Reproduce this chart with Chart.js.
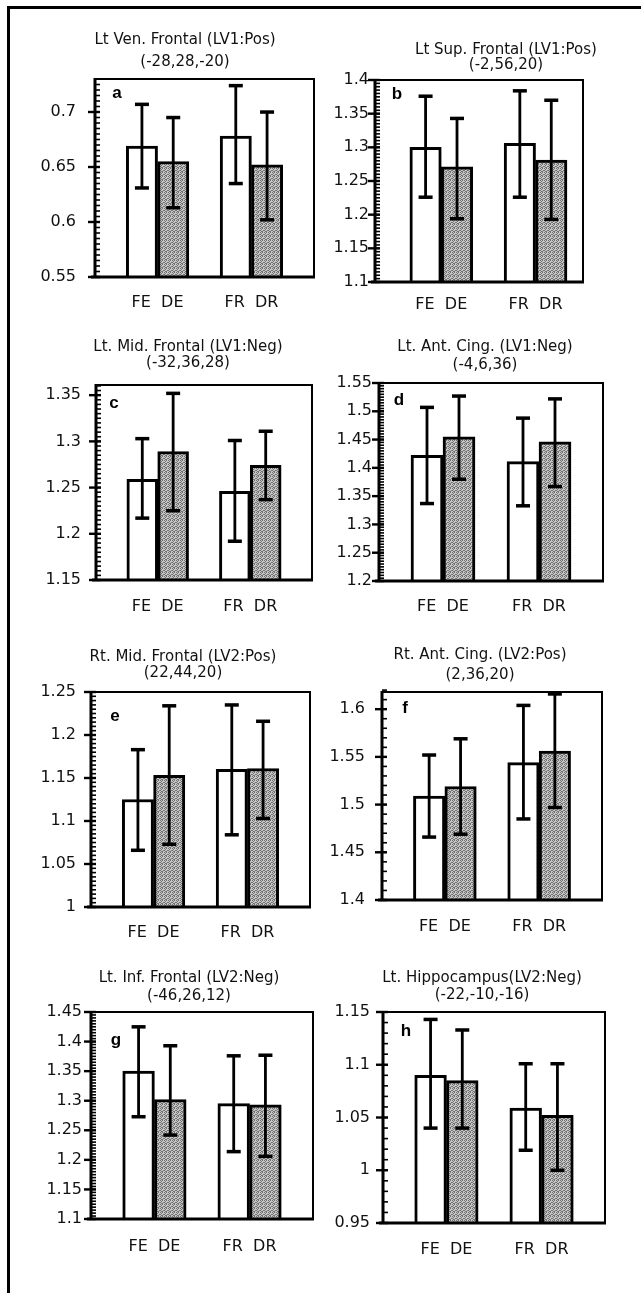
<!DOCTYPE html>
<html>
<head>
  <title>Regional values by condition</title>
  <script src="https://cdn.jsdelivr.net/npm/chart.js"></script>
  <style>
    body { margin: 0; background: #fff; }
    #page { position: relative; width: 641px; height: 1293px; overflow: hidden; }
    #frame { position: absolute; left: 7px; top: 6px; width: 660px; height: 1300px;
             border-left: 3px solid #000; border-top: 3px solid #000; }
    canvas { position: absolute; }
  </style>
</head>
<body>
<div id="page">
  <div id="frame"></div>
</div>

<script>
  // bar order inside each panel
  const conditions = ['FE', 'DE', 'FR', 'DR'];
  const groupLabels = ['FE  DE', 'FR  DR'];

  const titles = [
    ['Lt Ven. Frontal (LV1:Pos)', '(-28,28,-20)'],
    ['Lt Sup. Frontal (LV1:Pos)', '(-2,56,20)'],
    ['Lt. Mid. Frontal (LV1:Neg)', '(-32,36,28)'],
    ['Lt. Ant. Cing. (LV1:Neg)', '(-4,6,36)'],
    ['Rt. Mid. Frontal (LV2:Pos)', '(22,44,20)'],
    ['Rt. Ant. Cing. (LV2:Pos)', '(2,36,20)'],
    ['Lt. Inf. Frontal (LV2:Neg)', '(-46,26,12)'],
    ['Lt. Hippocampus(LV2:Neg)', '(-22,-10,-16)']
  ];
  const letters = ['a', 'b', 'c', 'd', 'e', 'f', 'g', 'h'];

  // a
  const meanA  = [0.669, 0.655, 0.678, 0.652];
  const upperA = [0.707, 0.695, 0.724, 0.700];
  const lowerA = [0.631, 0.613, 0.635, 0.602];
  const ticksA = [0.55, 0.6, 0.65, 0.7];
  // b
  const meanB  = [1.300, 1.271, 1.306, 1.281];
  const upperB = [1.376, 1.343, 1.384, 1.370];
  const lowerB = [1.226, 1.194, 1.226, 1.193];
  const ticksB = [1.1, 1.15, 1.2, 1.25, 1.3, 1.35, 1.4];
  // c
  const meanC  = [1.259, 1.289, 1.246, 1.274];
  const upperC = [1.303, 1.352, 1.301, 1.311];
  const lowerC = [1.217, 1.225, 1.192, 1.237];
  const ticksC = [1.15, 1.2, 1.25, 1.3, 1.35];
  // d
  const meanD  = [1.422, 1.455, 1.411, 1.446];
  const upperD = [1.507, 1.527, 1.488, 1.522];
  const lowerD = [1.337, 1.380, 1.333, 1.367];
  const ticksD = [1.2, 1.25, 1.3, 1.35, 1.4, 1.45, 1.5, 1.55];
  // e
  const meanE  = [1.125, 1.153, 1.160, 1.161];
  const upperE = [1.183, 1.234, 1.235, 1.216];
  const lowerE = [1.066, 1.073, 1.084, 1.103];
  const ticksE = [1, 1.05, 1.1, 1.15, 1.2, 1.25];
  // f
  const meanF  = [1.509, 1.519, 1.544, 1.556];
  const upperF = [1.552, 1.569, 1.604, 1.616];
  const lowerF = [1.466, 1.469, 1.485, 1.497];
  const ticksF = [1.4, 1.45, 1.5, 1.55, 1.6];
  // g
  const meanG  = [1.350, 1.302, 1.295, 1.293];
  const upperG = [1.425, 1.393, 1.376, 1.377];
  const lowerG = [1.273, 1.242, 1.214, 1.206];
  const ticksG = [1.1, 1.15, 1.2, 1.25, 1.3, 1.35, 1.4, 1.45];
  // h
  const meanH  = [1.090, 1.085, 1.059, 1.052];
  const upperH = [1.143, 1.133, 1.101, 1.101];
  const lowerH = [1.040, 1.040, 1.019, 1.000];
  const ticksH = [0.95, 1, 1.05, 1.1, 1.15];

  // layout of every panel, page pixels: canvas rect, plot box, title centre etc.
  const SLOT = [1, 2, 4, 5];
  const X_AXIS_H = 36;
  const panels = [
    { mean: meanA, upper: upperA, lower: lowerA, ticks: ticksA, top: 0.73, minor: 0.005,
      canvas: [0, 0, 320, 320], box: [95, 79, 314, 277], xr: [-0.5, 6.5],
      titleX: 185, titleY: [40, 62], letterAt: [117, 93], gap: 19, labelY: 303 },
    { mean: meanB, upper: upperB, lower: lowerB, ticks: ticksB, top: 1.4, minor: 0.005,
      canvas: [320, 0, 321, 320], box: [375, 80, 583, 282], xr: [-0.61, 6.01],
      titleX: 506, titleY: [50, 65], letterAt: [397, 94], gap: 6, labelY: 305 },
    { mean: meanC, upper: upperC, lower: lowerC, ticks: ticksC, top: 1.361, minor: 0.005,
      canvas: [0, 320, 320, 320], box: [96, 385, 312, 580], xr: [-0.5, 6.5],
      titleX: 188, titleY: [347, 363], letterAt: [114, 403], gap: 15, labelY: 607 },
    { mean: meanD, upper: upperD, lower: lowerD, ticks: ticksD, top: 1.55, minor: 0.005,
      canvas: [320, 320, 321, 320], box: [379, 383, 603, 581], xr: [-0.5, 6.5],
      titleX: 485, titleY: [347, 365], letterAt: [399, 400], gap: 7, labelY: 607 },
    { mean: meanE, upper: upperE, lower: lowerE, ticks: ticksE, top: 1.25, minor: 0.005,
      canvas: [0, 640, 320, 320], box: [91, 692, 310, 907], xr: [-0.5, 6.5],
      titleX: 183, titleY: [657, 673], letterAt: [115, 716], gap: 15, labelY: 933 },
    { mean: meanF, upper: upperF, lower: lowerF, ticks: ticksF, top: 1.618, minor: 0.01,
      canvas: [320, 640, 321, 320], box: [382, 692, 602, 900], xr: [-0.5, 6.5],
      titleX: 480, titleY: [655, 675], letterAt: [405, 708], gap: 17, labelY: 927 },
    { mean: meanG, upper: upperG, lower: lowerG, ticks: ticksG, top: 1.45, minor: 0.005,
      canvas: [0, 960, 320, 333], box: [91, 1012, 313, 1219], xr: [-0.5, 6.5],
      titleX: 189, titleY: [978, 996], letterAt: [116, 1040], gap: 9, labelY: 1247 },
    { mean: meanH, upper: upperH, lower: lowerH, ticks: ticksH, top: 1.15, minor: 0.01,
      canvas: [320, 960, 321, 333], box: [383, 1012, 605, 1223], xr: [-0.5, 6.5],
      titleX: 482, titleY: [978, 995], letterAt: [406, 1031], gap: 13, labelY: 1250 }
  ];

  // fine stippled grey of the second bar in each pair
  function makeStipple() {
    const c = document.createElement('canvas');
    c.width = 4; c.height = 4;
    const g = c.getContext('2d');
    g.fillStyle = '#c6c6c6';
    g.fillRect(0, 0, 4, 4);
    g.fillStyle = '#727272';
    [[0, 0], [2, 0], [1, 1], [3, 2], [0, 2], [2, 3], [1, 3]].forEach(([x, y]) => g.fillRect(x, y, 1, 1));
    return g.createPattern(c, 'repeat');
  }
  const stipple = makeStipple();

  // error bars, box frame, y ticks, panel letter and the two-line title
  const decor = {
    id: 'decor',
    afterDraw(chart, args, o) {
      const ctx = chart.ctx;
      const ys = chart.scales.y;
      const a = chart.chartArea;
      const meta = chart.getDatasetMeta(0);
      ctx.save();
      ctx.fillStyle = '#000';

      meta.data.forEach((bar, i) => {
        const yHi = ys.getPixelForValue(o.upper[i]);
        const yLo = ys.getPixelForValue(o.lower[i]);
        ctx.fillRect(bar.x - 1.4, yHi, 2.8, yLo - yHi);
        ctx.fillRect(bar.x - 7, yHi - 1.7, 14, 3.5);
        ctx.fillRect(bar.x - 7, yLo - 1.7, 14, 3.5);
      });

      // frame
      ctx.fillRect(a.left, a.top - 1, a.right - a.left, 2);
      ctx.fillRect(a.right - 1, a.top - 1, 2, a.bottom - a.top + 1);
      ctx.fillRect(a.left - 4, a.bottom - 1.5, a.right - a.left + 5, 3);
      ctx.fillRect(a.left - 1.5, a.top - 1, 3, a.bottom - a.top + 2);

      // minor and major ticks on the value axis
      const n = Math.round((o.top - o.ticks[0]) / o.minor);
      for (let k = 1; k <= n; k++) {
        const y = ys.getPixelForValue(o.ticks[0] + k * o.minor);
        ctx.fillRect(a.left, y - 0.8, 5, 1.6);
      }
      o.ticks.forEach(v => {
        const y = ys.getPixelForValue(v);
        ctx.fillRect(a.left - 7, y - 1.2, 12, 2.4);
      });

      ctx.textAlign = 'center';
      ctx.textBaseline = 'middle';
      ctx.font = 'bold 17px "Liberation Sans", Arial, sans-serif';
      ctx.fillText(o.letter, o.letterX, o.letterY);

      ctx.fillStyle = '#111';
      ctx.font = '15px "DejaVu Sans", sans-serif';
      o.title.forEach((t, i) => ctx.fillText(t, o.titleX, o.titleY[i]));
      ctx.restore();
    }
  };

  const page = document.getElementById('page');
  const tickFont = { family: '"DejaVu Sans", sans-serif', size: 16 };

  panels.forEach((p, idx) => {
    const [cx, cy, cw, ch] = p.canvas;
    const [L, T, R, B] = p.box;
    const canvas = document.createElement('canvas');
    canvas.width = cw;
    canvas.height = ch;
    canvas.style.left = cx + 'px';
    canvas.style.top = cy + 'px';
    page.appendChild(canvas);

    new Chart(canvas.getContext('2d'), {
      type: 'bar',
      data: {
        datasets: [{
          data: conditions.map((c, i) => ({ x: SLOT[i], y: p.mean[i] })),
          backgroundColor: conditions.map((c, i) => i % 2 ? stipple : '#ffffff'),
          borderColor: '#000',
          borderWidth: 3,
          borderSkipped: false,
          categoryPercentage: 1,
          barPercentage: 1
        }]
      },
      options: {
        responsive: false,
        animation: false,
        events: [],
        layout: { padding: { left: 0, top: T - cy, right: cx + cw - R, bottom: cy + ch - B - X_AXIS_H } },
        plugins: {
          legend: { display: false },
          tooltip: { enabled: false },
          decor: {
            upper: p.upper, lower: p.lower, ticks: p.ticks, top: p.top, minor: p.minor,
            letter: letters[idx], letterX: p.letterAt[0] - cx, letterY: p.letterAt[1] - cy,
            title: titles[idx], titleX: p.titleX - cx, titleY: p.titleY.map(y => y - cy)
          }
        },
        scales: {
          x: {
            type: 'linear',
            offset: false,
            min: p.xr[0],
            max: p.xr[1],
            grid: { display: false, drawTicks: false },
            border: { display: false },
            afterBuildTicks: s => { s.ticks = [{ value: 1.5 }, { value: 4.5 }]; },
            afterFit: s => { s.height = X_AXIS_H; },
            ticks: {
              autoSkip: false, maxRotation: 0, color: '#111', font: tickFont,
              padding: p.labelY - B - 9.6,
              callback: (v, i) => groupLabels[i]
            }
          },
          y: {
            min: p.ticks[0],
            max: p.top,
            grid: { display: false, drawTicks: false },
            border: { display: false },
            afterBuildTicks: s => { s.ticks = p.ticks.map(v => ({ value: v })); },
            afterFit: s => { s.width = L - cx; },
            ticks: {
              color: '#111', font: tickFont, padding: p.gap,
              callback: v => String(v)
            }
          }
        }
      },
      plugins: [decor]
    });
  });
</script>
</body>
</html>
